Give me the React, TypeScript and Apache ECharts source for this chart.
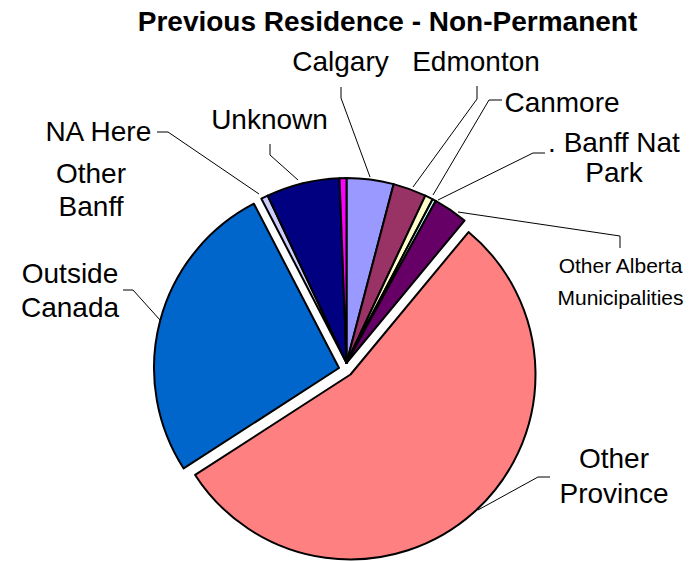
import { useEffect, useRef } from "react";
import * as echarts from "echarts";

// ---- data ----
const chartTitle = "Previous Residence - Non-Permanent";
const categories = [
  "Calgary",
  "Edmonton",
  "Canmore",
  "Banff Nat. Park",
  "Other Alberta Municipalities",
  "Other Province",
  "Outside Canada",
  "NA Here",
  "Unknown",
  "Other Banff",
];
const shares = [4.1, 2.9, 0.7, 0.3, 3.0, 54.8, 26.5, 0.6, 6.4, 0.6];
const labelTexts = [
  "Calgary",
  "Edmonton",
  "Canmore",
  ". Banff Nat\nPark",
  "Other Alberta\nMunicipalities",
  "Other\nProvince",
  "Outside\nCanada",
  "NA Here",
  "Unknown",
  "Other\nBanff",
];
const sliceColors = [
  "#9999FF",
  "#993366",
  "#FFFFCC",
  "#CCFFFF",
  "#660066",
  "#FF8080",
  "#0066CC",
  "#CCCCFF",
  "#000080",
  "#FF00FF",
];

// ---- layout (positions / styles) ----
const FONT = '"Liberation Sans", Arial, sans-serif';
const RADIUS = 185;
const pieGroups = [
  { center: [346.5, 363], members: [0, 1, 2, 3, 4, 7, 8, 9] },
  { center: [350.5, 374.5], members: [5] },
  { center: [339, 368], members: [6] },
];
type Placement = {
  x: number;
  y: number;
  fontSize: number;
  lineHeight: number;
  line?: number[][];
};
const placements: Placement[] = [
  { x: 340.5, y: 61, fontSize: 28, lineHeight: 34, line: [[370, 177], [341, 98], [341, 87]] },
  { x: 476, y: 61, fontSize: 28, lineHeight: 34, line: [[413, 187], [477, 99], [477, 86]] },
  { x: 562, y: 102, fontSize: 28, lineHeight: 34, line: [[433, 195], [489, 100], [502, 100]] },
  { x: 614, y: 157.3, fontSize: 28, lineHeight: 30, line: [[438, 200], [533, 153], [545, 153]] },
  { x: 620.5, y: 281.7, fontSize: 21, lineHeight: 31.5, line: [[458, 212], [620, 236], [620, 248]] },
  { x: 614, y: 476.3, fontSize: 28, lineHeight: 35, line: [[478, 510], [538, 477], [550, 477]] },
  { x: 70, y: 290, fontSize: 28, lineHeight: 34, line: [[160, 320], [133, 290], [123, 290]] },
  { x: 98.3, y: 131, fontSize: 28, lineHeight: 34, line: [[259, 194], [168, 132], [157, 132]] },
  { x: 269.5, y: 119, fontSize: 28, lineHeight: 34, line: [[298, 180], [270, 155], [270, 144]] },
  { x: 91, y: 189.5, fontSize: 28, lineHeight: 33 },
];

export default function App() {
  const ref = useRef<HTMLDivElement>(null);

  useEffect(() => {
    if (!ref.current) return;
    const chart = echarts.init(ref.current, undefined, { renderer: "svg" });

    const series = pieGroups.map((g) => ({
      type: "pie",
      center: g.center,
      radius: RADIUS,
      startAngle: 90,
      clockwise: true,
      avoidLabelOverlap: false,
      silent: true,
      minAngle: 0,
      label: {
        show: true,
        position: "outside",
        color: "#000",
        fontFamily: FONT,
        fontSize: 28,
        formatter: (p: any) => labelTexts[p.dataIndex],
      },
      labelLine: {
        show: true,
        smooth: false,
        length: 10,
        length2: 10,
        lineStyle: { color: "#000", width: 1 },
      },
      labelLayout: (p: any) => {
        const lp = placements[p.dataIndex];
        const out: any = {
          x: lp.x,
          y: lp.y,
          align: "center",
          verticalAlign: "middle",
        };
        if (lp.line) out.labelLinePoints = lp.line;
        return out;
      },
      data: categories.map((name, i) => {
        const visible = g.members.includes(i);
        const lp = placements[i];
        return {
          name,
          value: shares[i],
          itemStyle: visible
            ? { color: sliceColors[i], borderColor: "#000", borderWidth: 2 }
            : { color: "rgba(0,0,0,0)", borderWidth: 0 },
          label: visible
            ? { show: true, fontSize: lp.fontSize, lineHeight: lp.lineHeight }
            : { show: false },
          labelLine: { show: visible && !!lp.line },
        };
      }),
    }));

    chart.setOption({
      animation: false,
      backgroundColor: "#ffffff",
      graphic: [
        {
          type: "text",
          x: 387.5,
          y: 21,
          style: {
            text: chartTitle,
            fontFamily: FONT,
            fontSize: 28,
            fontWeight: "bold",
            fill: "#000",
            align: "center",
            verticalAlign: "middle",
          },
        },
      ],
      series,
    });

    return () => chart.dispose();
  }, []);

  return (
    <div
      ref={ref}
      style={{ position: "fixed", left: 0, top: 0, width: 698, height: 561 }}
    />
  );
}
